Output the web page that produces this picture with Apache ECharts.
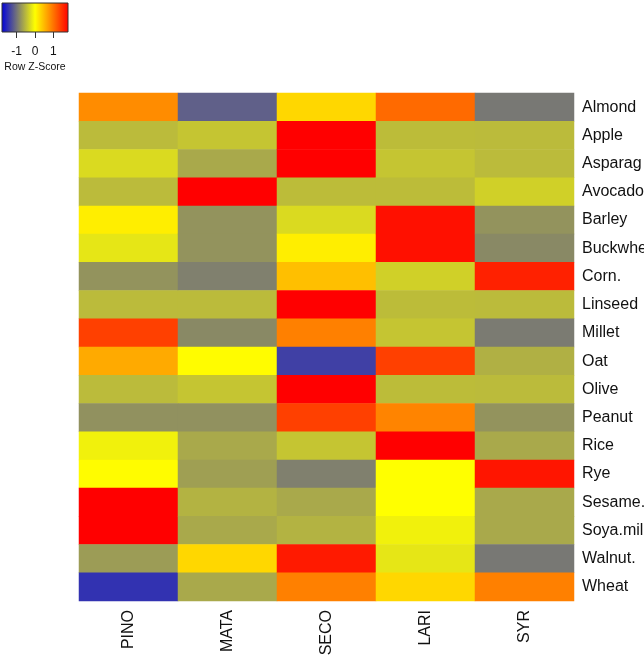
<!DOCTYPE html>
<html>
<head>
<meta charset="utf-8">
<title>Heatmap</title>
<script src="https://cdn.jsdelivr.net/npm/echarts@6/dist/echarts.min.js"></script>
<style>
  html, body { margin: 0; padding: 0; background: #fff; }
  #chart { width: 644px; height: 657px; }
</style>
</head>
<body>
<div id="chart"></div>
<script>
// categories
const samples = ['PINO', 'MATA', 'SECO', 'LARI', 'SYR']
const foods = ['Almond', 'Apple', 'Asparag', 'Avocado', 'Barley', 'Buckwhe', 'Corn.',
  'Linseed', 'Millet', 'Oat', 'Olive', 'Peanut', 'Rice', 'Rye', 'Sesame.',
  'Soya.mil', 'Walnut.', 'Wheat']

// row z-scores, one array per sample (same order as foods)
const pino = [0.81, -0.48, -0.26, -0.48, 0.12, -0.18, -0.76, -0.48, 1.35, 0.6, -0.48, -0.78, -0.1, 0.02, 1.8, 1.8, -0.7, -1.45]
const mata = [-1.12, -0.41, -0.61, 1.8, -0.76, -0.76, -0.9, -0.48, -0.83, 0.02, -0.41, -0.78, -0.61, -0.68, -0.54, -0.61, 0.28, -0.61]
const seco = [0.28, 1.8, 1.8, -0.47, -0.26, 0.12, 0.45, 1.8, 0.9, -1.35, 1.8, 1.35, -0.41, -0.9, -0.61, -0.54, 1.62, 0.9]
const lari = [1.05, -0.47, -0.41, -0.47, 1.69, 1.69, -0.33, -0.47, -0.41, 1.35, -0.47, 0.87, 1.8, 0.0, 0.0, -0.1, -0.18, 0.28]
const syr = [-0.95, -0.48, -0.48, -0.33, -0.76, -0.83, 1.57, -0.48, -0.93, -0.56, -0.48, -0.76, -0.61, 1.65, -0.61, -0.61, -0.95, 0.9]

// colour key
const keyMin = -1.8
const keyMax = 1.8
const keyTicks = [-1, 0, 1]
const palette = ['#0000dc', '#ffff00', '#ff0000']

const font = '"Liberation Sans", Arial, Helvetica, sans-serif'

const cols = [pino, mata, seco, lari, syr]
const cells = []
cols.forEach((col, i) => {
  col.forEach((v, j) => {
    cells.push([i, j, v])
  })
})

const chart = echarts.init(document.getElementById('chart'))

chart.setOption({
  animation: false,
  textStyle: { fontFamily: font },
  grid: [
    // heatmap body
    { left: 79, top: 93, width: 495, height: 508, outerBoundsMode: 'none' },
    // colour key box
    {
      left: 2, top: 3, width: 66, height: 29,
      outerBoundsMode: 'none',
      show: true,
      borderColor: '#333',
      borderWidth: 1,
      backgroundColor: {
        type: 'linear', x: 0, y: 0, x2: 1, y2: 0,
        colorStops: [
          { offset: 0, color: palette[0] },
          { offset: 0.5, color: palette[1] },
          { offset: 1, color: palette[2] }
        ]
      }
    }
  ],
  xAxis: [
    {
      type: 'category',
      data: samples,
      gridIndex: 0,
      position: 'bottom',
      axisLine: { show: false },
      axisTick: { show: false },
      splitLine: { show: false },
      axisLabel: {
        rotate: 90,
        margin: 9,
        fontSize: 16,
        color: '#111',
        fontFamily: font
      }
    },
    {
      type: 'value',
      gridIndex: 1,
      min: keyMin,
      max: keyMax,
      axisLine: { show: false },
      splitLine: { show: false },
      axisTick: {
        show: true,
        customValues: keyTicks,
        length: 6,
        lineStyle: { color: '#333', width: 1 }
      },
      axisLabel: {
        customValues: keyTicks,
        margin: 14,
        fontSize: 12,
        color: '#111',
        fontFamily: font
      },
      name: 'Row Z-Score',
      nameLocation: 'middle',
      nameGap: 30,
      nameTextStyle: { fontSize: 10.5, color: '#111', fontFamily: font }
    }
  ],
  yAxis: [
    {
      type: 'category',
      data: foods,
      gridIndex: 0,
      inverse: true,
      position: 'right',
      axisLine: { show: false },
      axisTick: { show: false },
      splitLine: { show: false },
      axisLabel: {
        margin: 8,
        fontSize: 16,
        color: '#111',
        fontFamily: font
      }
    },
    {
      type: 'value',
      gridIndex: 1,
      show: false
    }
  ],
  visualMap: {
    type: 'continuous',
    show: false,
    min: keyMin,
    max: keyMax,
    seriesIndex: 0,
    inRange: { color: palette }
  },
  series: [
    {
      type: 'heatmap',
      xAxisIndex: 0,
      yAxisIndex: 0,
      data: cells,
      itemStyle: { borderWidth: 0 },
      emphasis: { disabled: true }
    }
  ]
})
</script>
</body>
</html>
